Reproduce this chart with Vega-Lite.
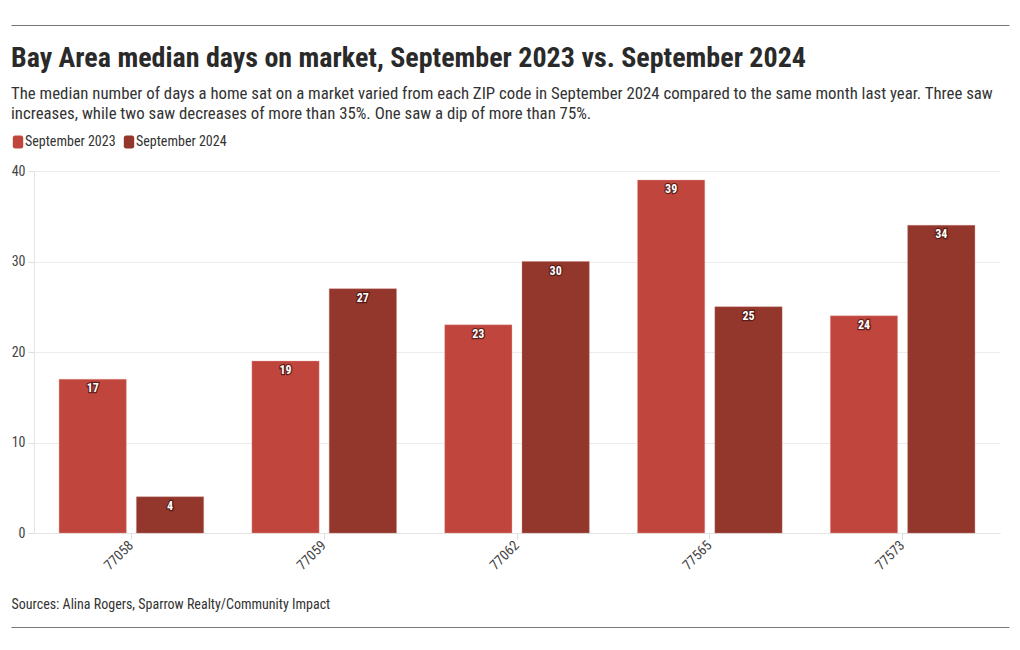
{
  "$schema": "https://vega.github.io/schema/vega-lite/v6.json",
  "padding": {"left": 11, "right": 11, "top": 25, "bottom": 25},
  "spacing": 15,
  "columns": 1,
  "background": "white",
  "resolve": {"scale": {"color": "independent", "stroke": "independent", "x": "independent"}, "legend": {"color": "independent"}},
  "config": {
    "font": "Roboto Condensed, Liberation Sans Narrow, Roboto, sans-serif",
    "view": {"stroke": null}
  },
  "concat": [
    {
      "width": 998,
      "height": 4.5,
      "data": {"values": [{"a": 0}]},
      "mark": {"type": "rule", "opacity": 0, "strokeWidth": 0},
      "encoding": {
        "x": {
          "field": "a",
          "type": "quantitative",
          "axis": {"orient": "top", "position": -23, "domainColor": "#777777", "domainWidth": 1, "labels": false, "ticks": false, "grid": false, "title": null}
        }
      }
    },
    {
      "width": 966,
      "height": 362,
      "title": {
        "text": "Bay Area median days on market, September 2023 vs. September 2024",
        "subtitle": [
          "The median number of days a home sat on a market varied from each ZIP code in September 2024 compared to the same month last year. Three saw",
          "increases, while two saw decreases of more than 35%. One saw a dip of more than 75%."
        ],
        "anchor": "start",
        "frame": "bounds",
        "font": "Roboto Condensed, Liberation Sans Narrow, Roboto, sans-serif",
        "fontSize": 28,
        "fontWeight": "bold",
        "color": "#2a2a2a",
        "subtitleFont": "Roboto Condensed, Liberation Sans Narrow, Roboto, sans-serif",
        "subtitleFontSize": 16.8,
        "subtitleColor": "#333333",
        "subtitlePadding": 13,
        "subtitleLineHeight": 20,
        "offset": 12
      },
      "data": {
        "values": [
          {"zip": "77058", "year": "September 2023", "days": 17},
          {"zip": "77058", "year": "September 2024", "days": 4},
          {"zip": "77059", "year": "September 2023", "days": 19},
          {"zip": "77059", "year": "September 2024", "days": 27},
          {"zip": "77062", "year": "September 2023", "days": 23},
          {"zip": "77062", "year": "September 2024", "days": 30},
          {"zip": "77565", "year": "September 2023", "days": 39},
          {"zip": "77565", "year": "September 2024", "days": 25},
          {"zip": "77573", "year": "September 2023", "days": 24},
          {"zip": "77573", "year": "September 2024", "days": 34}
        ]
      },
      "encoding": {
        "x": {
          "field": "zip",
          "type": "nominal",
          "scale": {"paddingInner": 0.25, "paddingOuter": 0.13},
          "axis": {
            "title": "Sources: Alina Rogers, Sparrow Realty/Community Impact",
            "titleAnchor": "start",
            "titleAlign": "left",
            "titleX": -23,
            "titlePadding": 25,
            "titleFontSize": 14,
            "titleFontWeight": "normal",
            "titleColor": "#333333",
            "labelAngle": -45,
            "labelAlign": "right",
            "labelBaseline": "middle",
            "labelFontSize": 14,
            "labelColor": "#444444",
            "labelPadding": 4,
            "tickColor": "#dddddd",
            "tickSize": 6,
            "domainColor": "#e4e4e4",
            "grid": false
          }
        },
        "xOffset": {"field": "year", "type": "nominal", "scale": {"paddingInner": 0.13}},
        "y": {
          "field": "days",
          "type": "quantitative",
          "scale": {"domain": [0, 40]},
          "axis": {
            "title": null,
            "values": [0, 10, 20, 30, 40],
            "labelFontSize": 14,
            "labelColor": "#444444",
            "labelPadding": 3,
            "tickSize": 6,
            "tickColor": "#dddddd",
            "domainColor": "#e4e4e4",
            "gridColor": "#ececec"
          }
        }
      },
      "layer": [
        {
          "mark": {"type": "bar", "strokeWidth": 1, "strokeOpacity": 0.35},
          "encoding": {
            "color": {
              "field": "year",
              "type": "nominal",
              "scale": {"domain": ["September 2023", "September 2024"], "range": ["#c0463d", "#93372d"]},
              "legend": {
                "title": null,
                "orient": "none",
                "direction": "horizontal",
                "legendX": -23,
                "legendY": -36,
                "symbolType": "M-0.8,-0.65 A0.35,0.35 0 0 1 -0.45,-1 L0.45,-1 A0.35,0.35 0 0 1 0.8,-0.65 L0.8,0.65 A0.35,0.35 0 0 1 0.45,1 L-0.45,1 A0.35,0.35 0 0 1 -0.8,0.65 Z",
                "symbolSize": 169,
                "symbolStrokeWidth": 0,
                "symbolOpacity": 1,
                "labelFontSize": 14,
                "labelColor": "#333333",
                "labelOffset": 0,
                "columnPadding": 6
              }
            },
            "stroke": {
              "field": "year",
              "type": "nominal",
              "scale": {"domain": ["September 2023", "September 2024"], "range": ["#e8a09a", "#c77b72"]},
              "legend": null
            }
          }
        },
        {
          "mark": {"type": "text", "baseline": "top", "dy": 4, "fontSize": 12, "fontWeight": "bold", "stroke": "#4a1510", "strokeWidth": 2.5, "strokeOpacity": 0.8, "fill": "#4a1510"},
          "encoding": {"text": {"field": "days", "type": "quantitative"}}
        },
        {
          "mark": {"type": "text", "baseline": "top", "dy": 4, "fontSize": 12, "fontWeight": "bold", "fill": "#ffffff"},
          "encoding": {"text": {"field": "days", "type": "quantitative"}}
        }
      ]
    },
    {
      "width": 998,
      "height": 1,
      "data": {"values": [{"a": 0}]},
      "mark": {"type": "rule", "opacity": 0, "strokeWidth": 0},
      "encoding": {
        "x": {
          "field": "a",
          "type": "quantitative",
          "axis": {"orient": "top", "position": -23, "domainColor": "#777777", "domainWidth": 1, "labels": false, "ticks": false, "grid": false, "title": null}
        }
      }
    }
  ]
}
